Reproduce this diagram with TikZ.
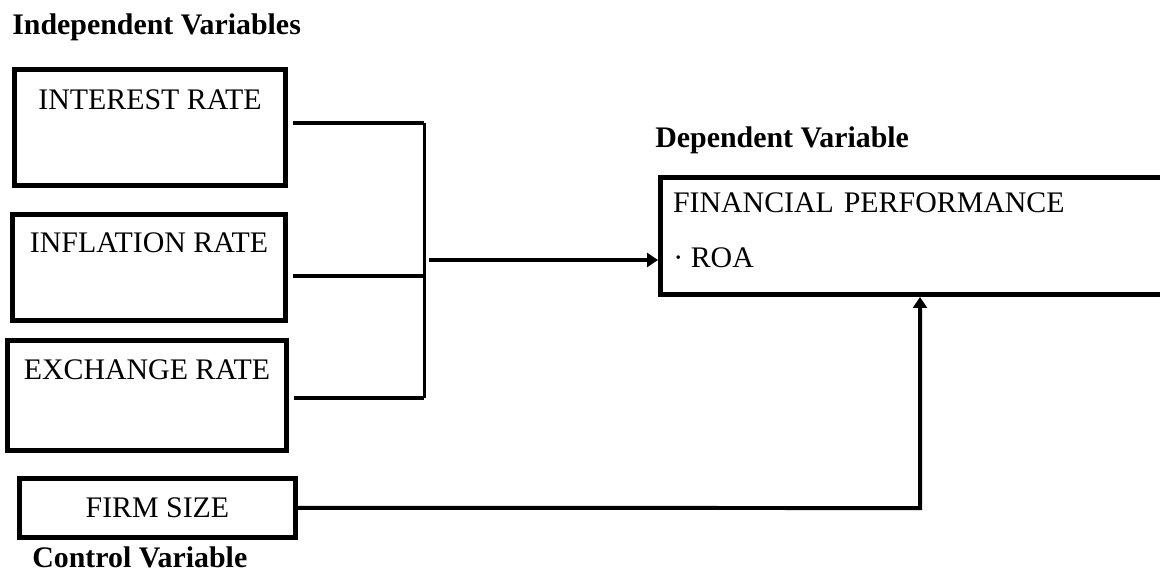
\documentclass[tikz,border=0pt]{standalone}
\usepackage{fontspec}
\setmainfont{Liberation Serif}
\usetikzlibrary{arrows.meta}
\tikzstyle{varbox} = [
    rectangle,
    draw=black,
    line width=0.1cm,
    inner sep=0pt,
    anchor=north west
]
\tikzstyle{heading} = [
    font=\fontsize{17pt}{20pt}\selectfont\bfseries,
    inner sep=0pt,
    anchor=base west
]
\tikzstyle{link} = [line width=0.08cm]
\tikzstyle{bus} = [line width=0.06cm]
\tikzstyle{arrow} = [line width=0.08cm, -{Triangle[length=0.22cm,width=0.28cm]}]

\begin{document}
\begin{tikzpicture}[x=0.02cm, y=-0.02cm, font=\fontsize{17pt}{20pt}\selectfont]
\path [use as bounding box, clip] (0,0) rectangle (1160,574);

\node (indep) [heading] at (12,35) {Independent Variables};

\node (interest) [varbox, minimum width=5.42cm, text height=0.81cm, text depth=1.51cm] at (12,67)
{INTEREST RATE};

\node (inflation) [varbox, minimum width=5.46cm, text height=0.77cm, text depth=1.35cm] at (10,212)
{INFLATION RATE};

\node (exchange) [varbox, minimum width=5.58cm, text height=0.79cm, text depth=1.41cm] at (5,338)
{EXCHANGE RATE};

\node (firmsize) [varbox, minimum width=5.52cm, minimum height=1.18cm] at (17,476)
{FIRM SIZE};

\node (ctrl) [heading] at (32,567) {Control Variable};

\node (dep) [heading] at (655,148) {Dependent Variable};

\node (finperf) [varbox, text width=10.3cm, align=left, inner xsep=0.25cm, text height=0.71cm, text depth=1.63cm] at (658,175)
{FINANCIAL PERFORMANCE};

\node (roa) [anchor=base west, inner sep=0pt] at ([xshift=0.3cm, yshift=-1.1cm]finperf.base west)
{· ROA};

\coordinate (b1) at (424,123);
\coordinate (b2) at (424,276);
\coordinate (b3) at (424,398);
\coordinate (out) at (429,260);
\coordinate (turn) at (920,508);

\draw [link, shorten <=0.1cm] (b1 -| interest.east) -- (b1);
\draw [link, shorten <=0.1cm] (b2 -| inflation.east) -- (b2);
\draw [link, shorten <=0.1cm] (b3 -| exchange.east) -- (b3);
\draw [bus] (b1) -- (b3);
\draw [arrow] (out) -- (out -| finperf.west);
\draw [arrow] (firmsize.east) -- (turn) -- (turn |- finperf.south);

\end{tikzpicture}
\end{document}
